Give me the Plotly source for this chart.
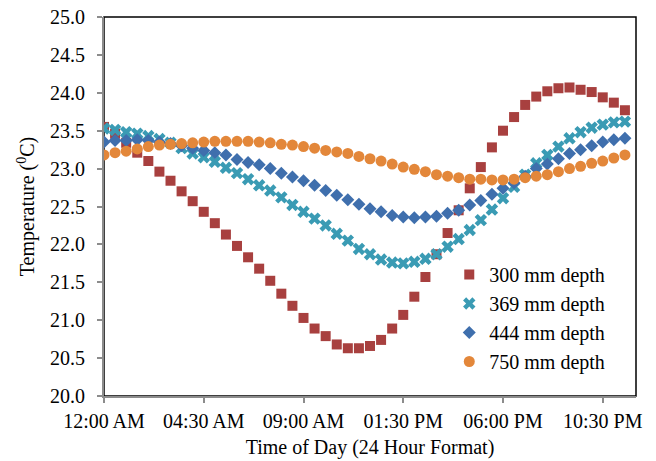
import pandas as pd
import plotly.graph_objects as go

times = pd.date_range("2000-01-01 00:00", periods=48, freq="30min")

depth_300 = [23.55, 23.46, 23.34, 23.21, 23.10, 22.96, 22.84, 22.70, 22.57, 22.43,
             22.28, 22.13, 21.98, 21.83, 21.68, 21.52, 21.35, 21.19, 21.03, 20.89,
             20.79, 20.68, 20.63, 20.63, 20.66, 20.74, 20.89, 21.07, 21.31, 21.57,
             21.87, 22.15, 22.45, 22.74, 23.02, 23.28, 23.50, 23.68, 23.84, 23.95,
             24.02, 24.06, 24.07, 24.04, 24.01, 23.94, 23.87, 23.77]
depth_369 = [23.53, 23.51, 23.48, 23.46, 23.43, 23.39, 23.34, 23.27, 23.20, 23.15,
             23.09, 23.01, 22.94, 22.86, 22.78, 22.71, 22.62, 22.52, 22.43, 22.34,
             22.25, 22.14, 22.05, 21.94, 21.87, 21.80, 21.76, 21.75, 21.77, 21.81,
             21.87, 21.97, 22.07, 22.19, 22.32, 22.46, 22.61, 22.76, 22.92, 23.07,
             23.18, 23.29, 23.40, 23.48, 23.54, 23.58, 23.61, 23.62]
depth_444 = [23.35, 23.37, 23.37, 23.38, 23.37, 23.35, 23.33, 23.30, 23.27, 23.24,
             23.21, 23.18, 23.12, 23.08, 23.05, 23.00, 22.94, 22.89, 22.84, 22.78,
             22.71, 22.65, 22.59, 22.53, 22.47, 22.43, 22.38, 22.36, 22.35, 22.36,
             22.37, 22.41, 22.45, 22.52, 22.58, 22.66, 22.74, 22.81, 22.90, 23.00,
             23.06, 23.13, 23.20, 23.25, 23.30, 23.35, 23.38, 23.40]
depth_750 = [23.18, 23.21, 23.23, 23.26, 23.29, 23.31, 23.32, 23.33, 23.34, 23.35,
             23.36, 23.36, 23.36, 23.36, 23.35, 23.34, 23.32, 23.31, 23.29, 23.27,
             23.24, 23.22, 23.20, 23.16, 23.13, 23.10, 23.06, 23.02, 22.99, 22.96,
             22.92, 22.90, 22.88, 22.86, 22.86, 22.85, 22.85, 22.86, 22.88, 22.90,
             22.92, 22.96, 23.00, 23.03, 23.07, 23.10, 23.14, 23.18]

series_names = ["300 mm depth", "369 mm depth", "444 mm depth", "750 mm depth"]
series_values = [depth_300, depth_369, depth_444, depth_750]
symbols = ["square", "x", "diamond", "circle"]
colors = ["#A8403F", "#3A9BB4", "#3F6FAD", "#E3873A"]
sizes = [10, 11, 10, 11]

FONT = "Liberation Serif, Times New Roman, serif"
FS = 20

fig = go.Figure()
for name, vals, sym, col, sz in zip(series_names, series_values, symbols, colors, sizes):
    fig.add_trace(go.Scatter(
        x=times, y=vals, mode="markers", name=name,
        marker=dict(symbol=sym, color=col, size=sz, line=dict(width=0)),
    ))

fig.add_shape(type="rect", xref="paper", yref="paper", x0=0, y0=0, x1=1, y1=1,
              line=dict(color="black", width=1.5), layer="below")

fig.update_layout(
    width=656, height=461,
    margin=dict(l=104, r=20, t=17, b=65),
    paper_bgcolor="white", plot_bgcolor="white",
    font=dict(family=FONT, size=FS, color="black"),
    showlegend=True,
    legend=dict(x=0.649, y=0.372, xanchor="left", yanchor="top",
                bgcolor="rgba(0,0,0,0)", font=dict(family=FONT, size=FS),
                itemwidth=30, tracegroupgap=0),
    xaxis=dict(
        type="date", automargin=False,
        range=["2000-01-01 00:00", "2000-01-02 00:00"],
        tick0="2000-01-01 00:00", dtick=4.5 * 3600 * 1000,
        tickformat="%I:%M %p",
        showgrid=False, zeroline=False,
        showline=True, linecolor="#8C8C8C", linewidth=2,
        ticks="outside", ticklen=5, tickcolor="#8C8C8C", tickwidth=1.5,
        ticklabelstandoff=1,
        tickfont=dict(family=FONT, size=FS),
        title=dict(text="Time of Day (24 Hour Format)", font=dict(family=FONT, size=FS), standoff=9),
    ),
    yaxis=dict(
        automargin=False,
        range=[20, 25], dtick=0.5, tickformat=".1f",
        showgrid=False, zeroline=False,
        showline=True, linecolor="#8C8C8C", linewidth=2,
        ticks="outside", ticklen=5, tickcolor="#8C8C8C", tickwidth=1.5,
        ticklabelstandoff=8,
        tickfont=dict(family=FONT, size=FS),
        title=dict(text="Temperature (<sup>0</sup>C)", font=dict(family=FONT, size=FS), standoff=10),
    ),
)

fig.write_html(
    "out.html",
    config={"displayModeBar": False},
    post_script="document.body.style.margin='0';document.body.style.overflow='hidden';",
)
